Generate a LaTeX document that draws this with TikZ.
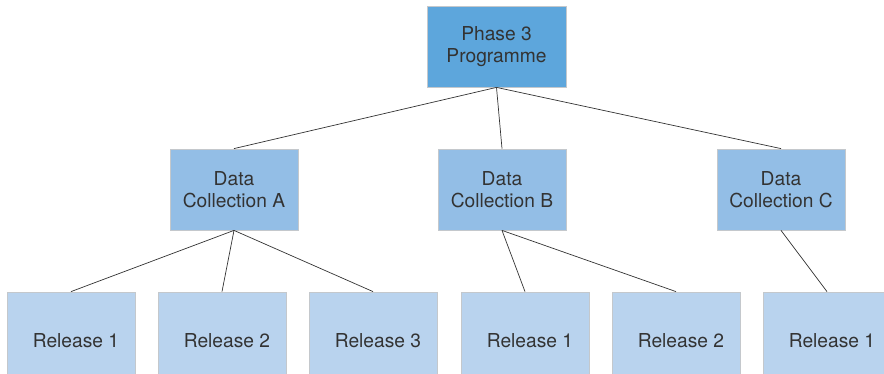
\documentclass[tikz,border=0pt]{standalone}
\usepackage{fontspec}
\setmainfont{TeX Gyre Heros}
\begin{document}
\begin{tikzpicture}[x=1pt,y=-1pt,
  box/.style={draw=boxline, line width=0.8pt, inner sep=0pt, align=center, text=txt,
    font=\fontsize{19.2}{22.5}\selectfont},
  topbox/.style={box, fill=topfill, minimum width=139pt, minimum height=81pt},
  midbox/.style={box, fill=midfill, minimum width=128pt, minimum height=81pt},
  leafbox/.style={box, fill=leaffill, minimum width=128pt, minimum height=97pt,
    execute at begin node=\hspace*{10pt}},
  link/.style={draw=linkcol, line width=0.7pt}]
\definecolor{topfill}{HTML}{5DA6DC}
\definecolor{midfill}{HTML}{93BEE6}
\definecolor{leaffill}{HTML}{B9D3EE}
\definecolor{boxline}{HTML}{C4C8CC}
\definecolor{txt}{HTML}{333333}
\definecolor{linkcol}{HTML}{333333}
\useasboundingbox (0,0) rectangle (884,374);
\fill[white] (0,0) rectangle (884,374);
\node[topbox] (top) at (496.5,46.5) {Phase 3\\Programme};
\node[midbox] (a) at (234,189.5) {Data\\Collection A};
\node[midbox] (b) at (502,189.5) {Data\\Collection B};
\node[midbox] (c) at (781,189.5) {Data\\Collection C};
\node[leafbox] (a1) at (71,340.5) {Release 1};
\node[leafbox] (a2) at (222,340.5) {Release 2};
\node[leafbox] (a3) at (373,340.5) {Release 3};
\node[leafbox] (b1) at (525,340.5) {Release 1};
\node[leafbox] (b2) at (676,340.5) {Release 2};
\node[leafbox] (c1) at (827,340.5) {Release 1};
\draw[link] (top.south) -- (a.north);
\draw[link] (top.south) -- (b.north);
\draw[link] (top.south) -- (c.north);
\draw[link] (a.south) -- (a1.north);
\draw[link] (a.south) -- (a2.north);
\draw[link] (a.south) -- (a3.north);
\draw[link] (b.south) -- (b1.north);
\draw[link] (b.south) -- (b2.north);
\draw[link] (c.south) -- (c1.north);
\end{tikzpicture}
\end{document}
